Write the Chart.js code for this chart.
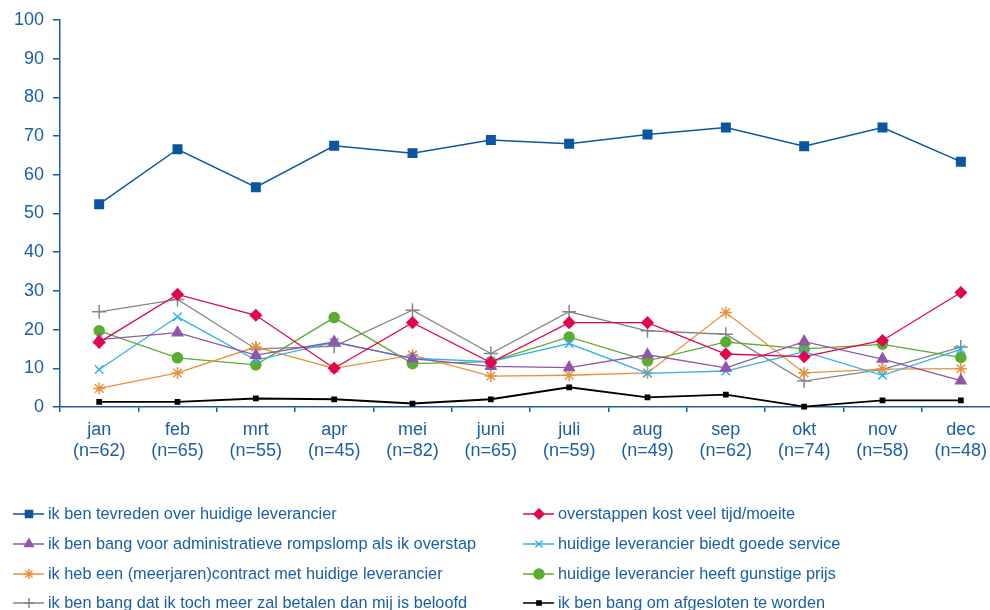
<!DOCTYPE html>
<html>
<head>
<meta charset="utf-8">
<script src="https://cdn.jsdelivr.net/npm/chart.js@4"></script>
<style>
  html, body { margin: 0; padding: 0; background: #fff; overflow: hidden; width: 990px; height: 610px; }
  #wrap { width: 1010px; height: 610px; }
  canvas { display: block; }
</style>
</head>
<body>
<div id="wrap"><canvas id="chart" width="1010" height="610"></canvas></div>
<script>
// months and sample sizes
const months = ['jan', 'feb', 'mrt', 'apr', 'mei', 'juni', 'juli', 'aug', 'sep', 'okt', 'nov', 'dec'];
const sampleSizes = ['(n=62)', '(n=65)', '(n=55)', '(n=45)', '(n=82)', '(n=65)', '(n=59)', '(n=49)', '(n=62)', '(n=74)', '(n=58)', '(n=48)'];

// series values (percentages)
const tevreden     = [52.4, 66.6, 56.8, 67.5, 65.6, 69.0, 68.0, 70.4, 72.2, 67.4, 72.2, 63.4];
const overstappen  = [16.7, 29.1, 23.7, 10.0, 21.8, 11.5, 21.8, 21.8, 13.7, 13.0, 17.2, 29.6];
const rompslomp    = [17.4, 19.2, 13.4, 16.8, 12.5, 10.5, 10.2, 13.5, 10.1, 16.9, 12.4, 6.8];
const service      = [9.7, 23.3, 12.1, 16.7, 12.6, 11.7, 16.4, 8.7, 9.3, 14.3, 8.2, 14.9];
const contract     = [4.8, 8.8, 15.5, 10.0, 13.4, 8.0, 8.2, 8.8, 24.4, 8.8, 9.8, 9.9];
const gunstig      = [19.7, 12.7, 10.9, 23.1, 11.2, 11.7, 18.1, 11.9, 16.8, 15.0, 16.2, 12.8];
const meerBetalen  = [24.6, 27.8, 15.0, 15.7, 25.0, 13.8, 24.6, 19.7, 18.8, 6.7, 9.7, 15.5];
const afgesloten   = [1.3, 1.3, 2.2, 2.0, 0.9, 2.0, 5.1, 2.5, 3.2, 0.1, 1.7, 1.7];

const yTicks = [0, 10, 20, 30, 40, 50, 60, 70, 80, 90, 100];

const textBlue = '#1b5ea6';
const axisBlue = '#1a5ca3';
const fontFamily = '"Liberation Sans", Arial, sans-serif';

function series(label, data, color, pointStyle, radius) {
  return {
    label, data,
    borderColor: color,
    backgroundColor: color,
    borderWidth: 1.3,
    pointStyle,
    pointRadius: radius,
    pointBorderWidth: 1.5,
    pointBorderColor: color,
    pointBackgroundColor: color,
    tension: 0,
    clip: false
  };
}

const datasets = [
  series('ik ben tevreden over huidige leverancier', tevreden, '#0a56a0', 'rect', 6),
  series('overstappen kost veel tijd/moeite', overstappen, '#e2064f', 'rectRot', 5.5),
  series('ik ben bang voor administratieve rompslomp als ik overstap', rompslomp, '#8e57a8', 'triangle', 6),
  series('huidige leverancier biedt goede service', service, '#35b1e8', 'crossRot', 6),
  series('ik heb een (meerjaren)contract met huidige leverancier', contract, '#e8923b', 'star', 6),
  series('huidige leverancier heeft gunstige prijs', gunstig, '#5cac31', 'circle', 5),
  series('ik ben bang dat ik toch meer zal betalen dan mij is beloofd', meerBetalen, '#858585', 'cross', 7),
  series('ik ben bang om afgesloten te worden', afgesloten, '#000000', 'rect', 3)
];
datasets[0].borderWidth = 1.5;
datasets[7].borderWidth = 1.8;

// legend in two columns below the chart, drawn on the canvas
const legendPlugin = {
  id: 'twoColLegend',
  afterDraw(chart) {
    const ctx = chart.ctx;
    const rowsY = [514, 544, 574, 603];
    const colX = [13, 523];
    ctx.save();
    chart.data.datasets.forEach((ds, i) => {
      const col = i % 2, row = Math.floor(i / 2);
      const x0 = colX[col], y = rowsY[row];
      ctx.strokeStyle = ds.borderColor;
      ctx.fillStyle = ds.borderColor;
      ctx.lineWidth = 1.5;
      ctx.beginPath();
      ctx.moveTo(x0, y);
      ctx.lineTo(x0 + 31, y);
      ctx.stroke();
      Chart.helpers.drawPoint(ctx, {
        pointStyle: ds.pointStyle,
        radius: Math.min(ds.pointRadius, 5),
        rotation: 0,
        borderWidth: 1.5
      }, x0 + 16, y);
      ctx.fillStyle = textBlue;
      ctx.font = '16.3px ' + fontFamily;
      ctx.textBaseline = 'middle';
      ctx.textAlign = 'left';
      ctx.fillText(ds.label, x0 + 35, y + 1);
    });
    ctx.restore();
  }
};

new Chart(document.getElementById('chart'), {
  type: 'line',
  data: {
    labels: months.map((m, i) => [m, sampleSizes[i]]),
    datasets
  },
  plugins: [legendPlugin],
  options: {
    responsive: false,
    animation: false,
    layout: { padding: { top: 20, right: 10, bottom: 0, left: 0 } },
    plugins: {
      legend: { display: false },
      tooltip: { enabled: false }
    },
    scales: {
      x: {
        type: 'category',
        offset: true,
        border: { color: axisBlue, width: 1.5 },
        grid: {
          offset: true,
          drawOnChartArea: false,
          drawTicks: true,
          tickLength: 5,
          color: axisBlue,
          lineWidth: 1.5
        },
        ticks: {
          color: textBlue,
          font: { family: fontFamily, size: 18, lineHeight: 1.15 },
          padding: 8,
          maxRotation: 0,
          autoSkip: false
        },
        afterFit(scale) { scale.height = 203; }
      },
      y: {
        min: 0,
        max: 100,
        border: { color: axisBlue, width: 1.5 },
        grid: {
          drawOnChartArea: false,
          drawTicks: true,
          tickLength: 7,
          color: axisBlue,
          lineWidth: 1.5
        },
        afterBuildTicks(scale) { scale.ticks = yTicks.map(v => ({ value: v })); },
        ticks: {
          color: textBlue,
          font: { family: fontFamily, size: 18 },
          padding: 9
        },
        afterFit(scale) { scale.width = 60; }
      }
    }
  }
});
</script>
</body>
</html>
